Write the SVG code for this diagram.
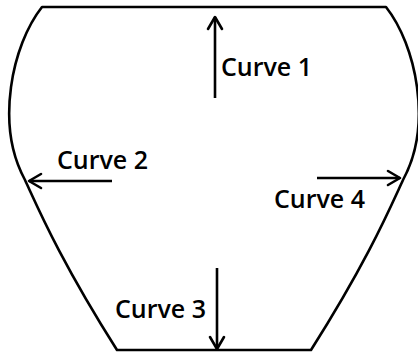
<svg xmlns="http://www.w3.org/2000/svg" width="418" height="355" viewBox="0 0 418 355">
<defs>
<style>
.outline{fill:none;stroke:#000;stroke-width:2.6;stroke-linejoin:round}
.arr{fill:none;stroke:#000;stroke-width:2.6;marker-end:url(#head)}
.lbl{font-family:"Open Sans","Noto Sans",sans-serif;font-size:25px;font-weight:600;fill:#000}
</style>
<marker id="head" markerUnits="userSpaceOnUse" viewBox="-14 -9 16 18" refX="0" refY="0" markerWidth="16" markerHeight="18" orient="auto" overflow="visible">
<path d="M-12,-7 L0,0 L-12,7" fill="none" stroke="#000" stroke-width="2.6" stroke-linejoin="round" stroke-linecap="round"/>
</marker>
</defs>
<g id="vessel">
<path class="outline" d="M42,7 L386,7 C416,45 433,125 403,180 C390,208 368,260 311,350 L117,350 C60,260 38,208 25,180 C-5,125 12,45 42,7 Z"/>
</g>
<g id="connectors">
<path class="arr" d="M215,98 L215,17"/>
<path class="arr" d="M112,181 L29,181"/>
<path class="arr" d="M217,268 L217,349"/>
<path class="arr" d="M317,178 L400,178"/>
</g>
<g id="curve1"><text class="lbl" x="221" y="76">Curve 1</text></g>
<g id="curve2"><text class="lbl" x="57" y="169">Curve 2</text></g>
<g id="curve3"><text class="lbl" x="115" y="318">Curve 3</text></g>
<g id="curve4"><text class="lbl" x="274" y="208">Curve 4</text></g>
</svg>
